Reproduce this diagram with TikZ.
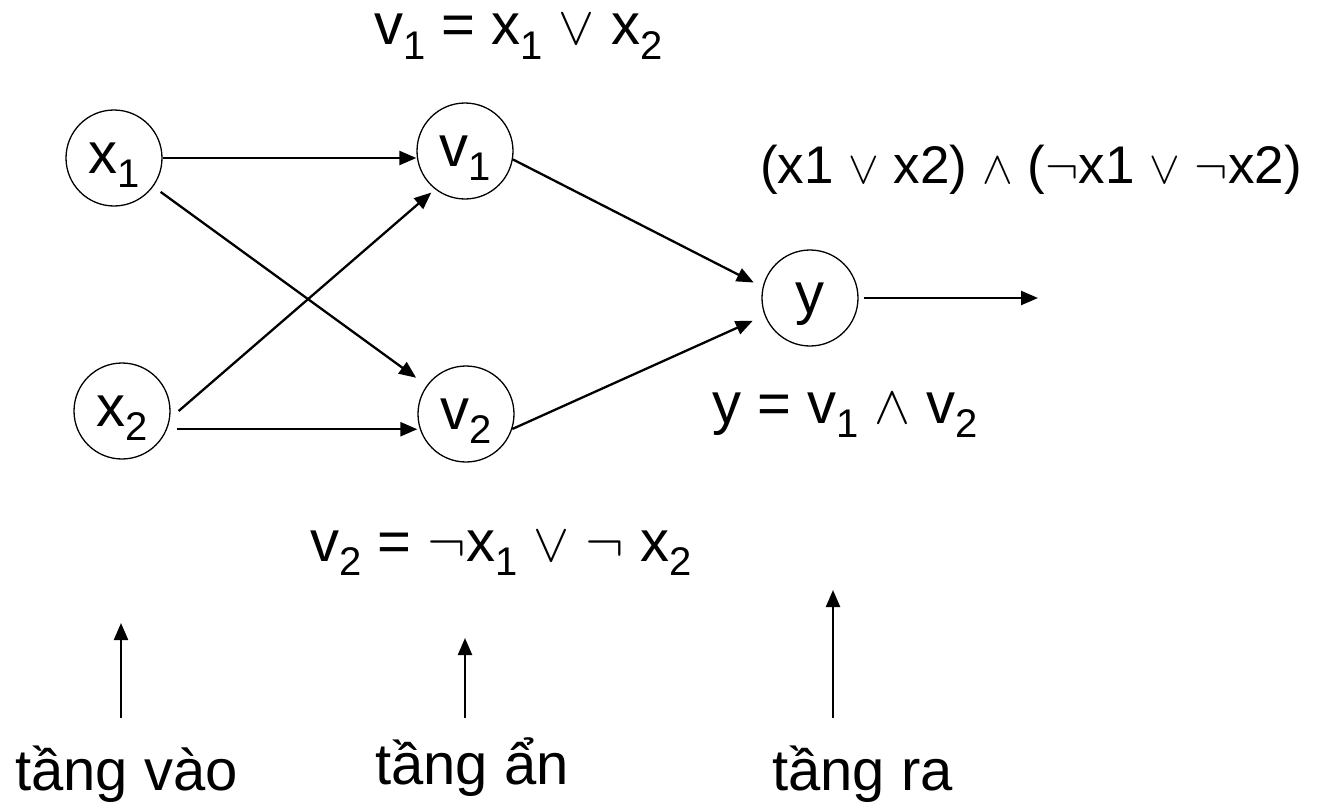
\documentclass[tikz,border=0pt]{standalone}
\usepackage{fix-cm}
\usepackage{fontspec}
\setmainfont{Liberation Sans}
\usetikzlibrary{arrows.meta}
\newcommand\bigtext{\fontsize{58}{68}\selectfont}
\newcommand\subidx[1]{\raisebox{-14pt}{\fontsize{40}{44}\selectfont #1}}
\newcommand\disj[1][54]{{\fontsize{#1}{60}\selectfont$\vee$}}
\newcommand\conj[1][54]{{\fontsize{#1}{60}\selectfont$\wedge$}}
\newcommand\nicht[1][58]{{\fontsize{#1}{60}\selectfont$\neg$}}
\tikzset{
  neuron/.style={circle, draw, line width=1.3pt, minimum size=96pt, inner sep=0pt,
    text depth=0pt, font=\bigtext},
  link/.style={-{Triangle[length=17pt,width=14pt]}, line width=2.3pt},
  formula/.style={anchor=base west, inner sep=0pt, font=\bigtext}
}

\begin{document}
\begin{tikzpicture}[x=1pt,y=-1pt]
  \useasboundingbox (0,0) rectangle (1318,803);
  % neurons
  \node[neuron] (x1) at (114,158) {x\subidx{1}};
  \node[neuron] (x2) at (122,411) {x\subidx{2}};
  \node[neuron] (v1) at (465,151) {v\subidx{1}};
  \node[neuron] (v2) at (466,414) {v\subidx{2}};
  \node[neuron] (y) at (810,298) {y};
  \coordinate (out) at (1038,298);
  % connections
  \draw[link] (x1.east) -- (x1.east -| v1.west);
  \draw[link, shorten <=9pt, shorten >=13pt] (x1) -- (v2);
  \draw[link, shorten >=5pt] ([xshift=8pt]x2.east) -- (v1.232);
  \draw[link, shorten <=10pt] (x2.-22) -- (x2.-22 -| v2.west);
  \draw[link, shorten >=10pt] (v1.-10) -- (y.167);
  \draw[link, shorten >=13pt] (v2.-18) -- (y.201);
  \draw[link, shorten <=5pt] (y.east) -- (out);
  % formulas
  \node[formula] (f1) at (374,45) {v\subidx{1} = x\subidx{1} \disj{} x\subidx{2}};
  \node[formula, font=\fontsize{53}{62}\selectfont] (fall) at (760,183)
    {(x1 \disj[46]{} x2) \conj[46]{} (\nicht[50]{}x1 \disj[46]{} \nicht[50]{}x2)};
  \node[formula] (fy) at (712,423) {y = v\subidx{1} \conj{} v\subidx{2}};
  \node[formula] (f2) at (310,561) {v\subidx{2} = \nicht{}x\subidx{1} \disj{} \nicht{} x\subidx{2}};
  % layers
  \node[formula] (lin) at (15,790) {tầng vào};
  \node[formula] (lhid) at (375,784) {tầng ẩn};
  \node[formula] (lout) at (772,790) {tầng ra};
  \coordinate (inlow) at (121,718);
  \coordinate (inhigh) at (121,623);
  \coordinate (hidlow) at (465,718);
  \coordinate (hidhigh) at (465,638);
  \coordinate (outlow) at (833,718);
  \coordinate (outhigh) at (833,590);
  \draw[link] (inlow) -- (inhigh);
  \draw[link] (hidlow) -- (hidhigh);
  \draw[link] (outlow) -- (outhigh);
\end{tikzpicture}
\end{document}
